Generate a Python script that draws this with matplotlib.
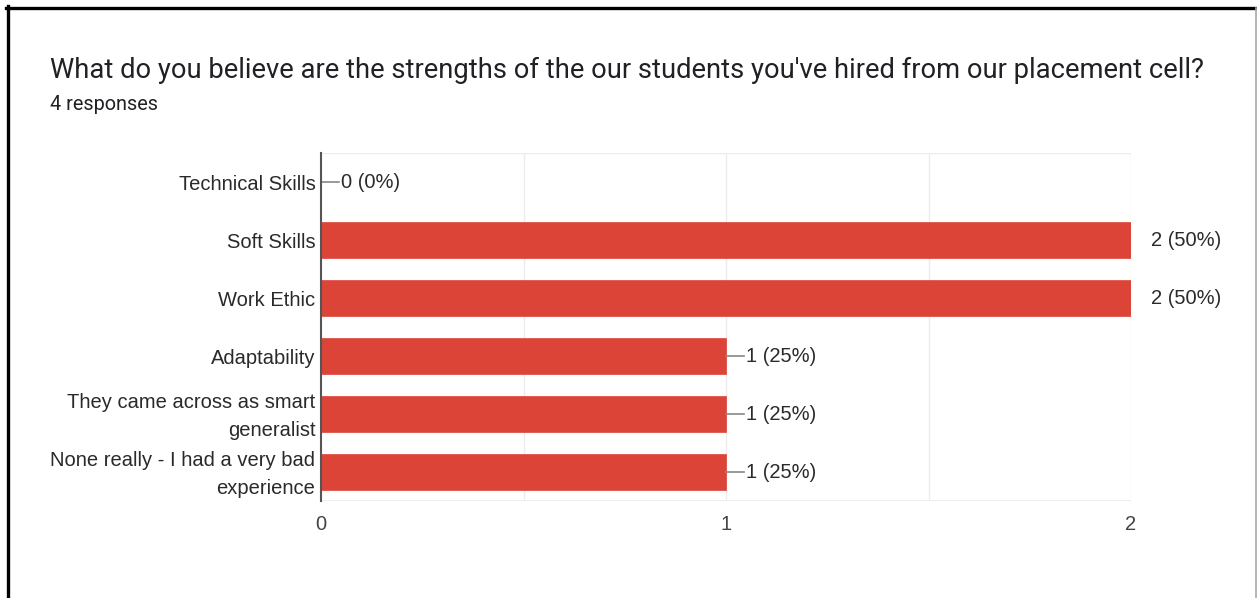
import matplotlib
matplotlib.use("Agg")
import matplotlib.pyplot as plt
from matplotlib.lines import Line2D
from matplotlib.transforms import ScaledTranslation

title = "What do you believe are the strengths of the our students you've hired from our placement cell?"
subtitle = "4 responses"
categories = [
    "Technical Skills",
    "Soft Skills",
    "Work Ethic",
    "Adaptability",
    "They came across as smart\ngeneralist",
    "None really - I had a very bad\nexperience",
]
counts = [0, 2, 2, 1, 1, 1]
total = 4
x_ticks = [0, 1, 2]

W, H = 1257, 598
fig = plt.figure(figsize=(W / 100, H / 100), dpi=100)
fig.patch.set_facecolor("white")

# frame lines around the card
fig.add_artist(Line2D([6 / W, 1], [1 - 7.5 / H, 1 - 7.5 / H], color="black", lw=2.4,
                      transform=fig.transFigure))
fig.add_artist(Line2D([7.5 / W, 7.5 / W], [0, 1 - 6 / H], color="black", lw=2.4,
                      transform=fig.transFigure))
fig.add_artist(Line2D([1255.5 / W, 1255.5 / W], [0, 1 - 8 / H], color="#a8a8a8", lw=1.2,
                      transform=fig.transFigure))

fig.text(50 / W, 1 - 70 / H, title, fontsize=19.7, family="Roboto", color="#202124",
         va="center", ha="left")
fig.text(50 / W, 1 - 104 / H, subtitle, fontsize=14.3, family="Roboto", color="#202124",
         va="center", ha="left")

left, right, top, bottom = 321, 1131, 153, 501
ax = fig.add_axes([left / W, 1 - bottom / H, (right - left) / W, (bottom - top) / H])

ypos = list(range(len(categories)))
ax.barh(ypos, counts, height=0.63, color="#db4437", edgecolor="#db4437", linewidth=0.5, zorder=3)
ax.set_xlim(0, 2)
ax.set_ylim(len(categories) - 0.5, -0.5)

ax.set_yticks(ypos)
ax.set_yticklabels(categories, fontsize=14.5, family="Liberation Sans", color="#2a2a2a",
                   linespacing=1.55)
ax.tick_params(axis="y", length=0, pad=4)
# nudge the two-line labels up slightly so their lines straddle the bar centre
for lbl in ax.get_yticklabels():
    if "\n" in lbl.get_text():
        lbl.set_transform(lbl.get_transform() + ScaledTranslation(0, 3.5 / 100, fig.dpi_scale_trans))

ax.set_xticks(x_ticks)
ax.set_xticklabels([str(t) for t in x_ticks], fontsize=14.5, family="Liberation Sans",
                   color="#444444")
ax.tick_params(axis="x", length=0, pad=10)

for x in [0.5, 1, 1.5, 2]:
    ax.axvline(x, color="#ececec", lw=1, zorder=1)
ax.axhline(len(categories) - 0.5, color="#ececec", lw=2, zorder=1)
ax.axhline(-0.5, color="#ececec", lw=1, zorder=1)

for s in ["top", "right", "bottom"]:
    ax.spines[s].set_visible(False)
ax.spines["left"].set_color("#555555")
ax.spines["left"].set_linewidth(1.5)
ax.spines["left"].set_zorder(4)

# value annotations with short leader lines
for y, c in zip(ypos, counts):
    label = f"{c} ({c / total * 100:.0f}%)"
    if c < 2:
        ax.plot([c, c + 0.045], [y, y], color="#888888", lw=1.2, zorder=4, clip_on=False)
    ax.text(c + 0.05, y, label, fontsize=14.5, family="Liberation Sans", color="#2a2a2a",
            va="center", ha="left")

fig.savefig("out.png", dpi=100)
